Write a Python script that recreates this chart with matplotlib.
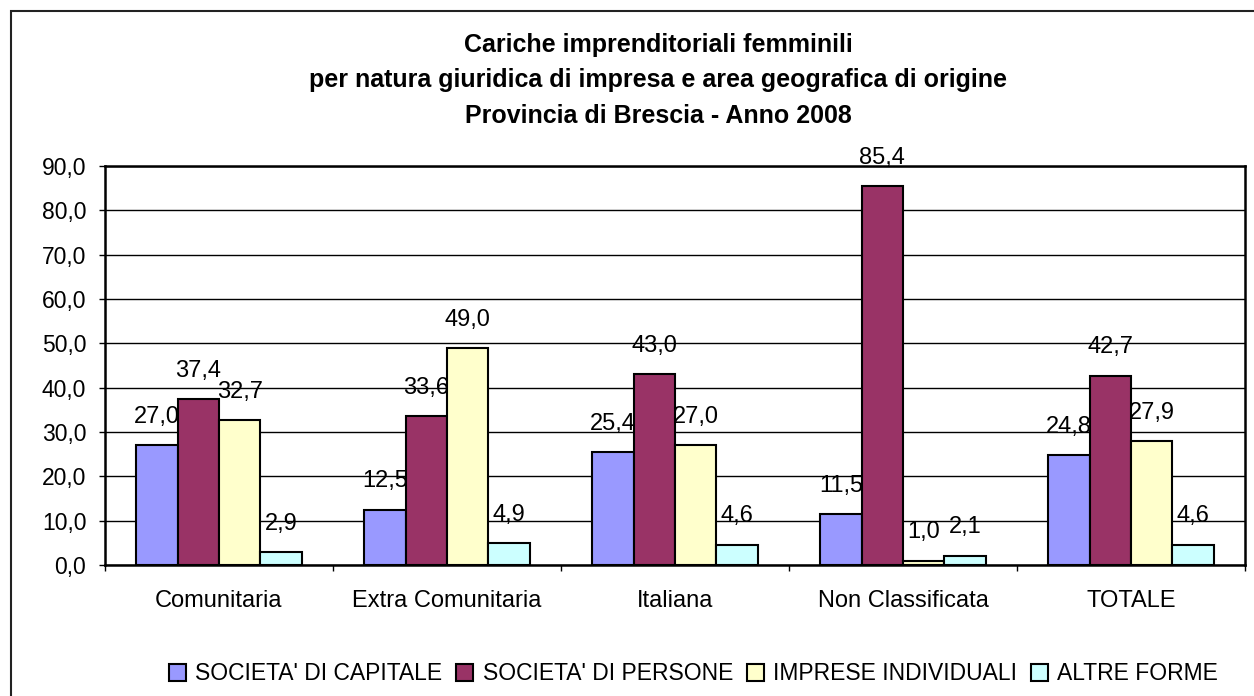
import matplotlib
matplotlib.use('Agg')
import numpy as np
import matplotlib.pyplot as plt
from matplotlib.patches import Rectangle
from matplotlib.ticker import FuncFormatter, MultipleLocator, FixedLocator

plt.rcParams['font.family'] = ['Liberation Sans', 'DejaVu Sans']

title_lines = ['Cariche imprenditoriali femminili',
               'per natura giuridica di impresa e area geografica di origine',
               'Provincia di Brescia - Anno 2008']
categories = ['Comunitaria', 'Extra Comunitaria', 'Italiana', 'Non Classificata', 'TOTALE']
series_names = ["SOCIETA' DI CAPITALE", "SOCIETA' DI PERSONE",
                'IMPRESE INDIVIDUALI', 'ALTRE FORME']
capitale = [27.0, 12.5, 25.4, 11.5, 24.8]
persone = [37.4, 33.6, 43.0, 85.4, 42.7]
individuali = [32.7, 49.0, 27.0, 1.0, 27.9]
altre = [2.9, 4.9, 4.6, 2.1, 4.6]
colors = ['#9999FF', '#993366', '#FFFFCC', '#CCFFFF']


def comma_fmt(v, pos=None):
    return f'{v:.1f}'.replace('.', ',')


fig = plt.figure(figsize=(12.54, 6.96), dpi=100)

# outer chart frame (right and bottom edges fall outside the picture)
fig.patches.append(Rectangle((11 / 1254, -0.1), 1.2, 1.1 - 11 / 696,
                             transform=fig.transFigure, fill=False,
                             edgecolor='#222222', linewidth=1.5))

ax = fig.add_axes([105 / 1254, 1 - 565 / 696, 1140 / 1254, 399 / 696])

x = np.arange(len(categories))
width = 0.181
all_series = [capitale, persone, individuali, altre]
handles = []
for i, (vals, col, name) in enumerate(zip(all_series, colors, series_names)):
    pos = x + (i - 1.5) * width
    bars = ax.bar(pos, vals, width, color=col, edgecolor='black',
                  linewidth=1.5, label=name, zorder=3)
    handles.append(bars)
    for p, v in zip(pos, vals):
        ax.annotate(comma_fmt(v), (p, v), xytext=(0, 16),
                    textcoords='offset points', ha='center', va='baseline',
                    fontsize=17, zorder=4)

ax.set_xlim(-0.5, len(categories) - 0.5)
ax.set_ylim(0, 90)
ax.yaxis.set_major_locator(MultipleLocator(10))
ax.yaxis.set_major_formatter(FuncFormatter(comma_fmt))
ax.grid(axis='y', color='black', linewidth=1, zorder=0)

ax.set_xticks(x)
ax.set_xticklabels(categories)
ax.xaxis.set_minor_locator(FixedLocator(np.arange(-0.5, len(categories), 1)))
ax.tick_params(axis='x', which='major', length=0, pad=18, labelsize=17)
ax.tick_params(axis='x', which='minor', length=4.5, width=1, direction='out')
ax.tick_params(axis='y', length=4.5, width=1, pad=9, labelsize=16.5)

for s in ax.spines.values():
    s.set_linewidth(1.8)
    s.set_color('black')

# title
for line, ypix in zip(title_lines, [45, 80, 116]):
    fig.text(0.525, 1 - ypix / 696, line, ha='center', va='center',
             fontsize=18, fontweight='bold')

fig.legend(handles=handles, loc='center', bbox_to_anchor=(0.553, 1 - 674 / 696),
           ncol=4, frameon=False, fontsize=16.5, handlelength=0.75,
           handleheight=0.75, handletextpad=0.4, columnspacing=0.6,
           borderaxespad=0)

fig.savefig('out.png', dpi=100)
